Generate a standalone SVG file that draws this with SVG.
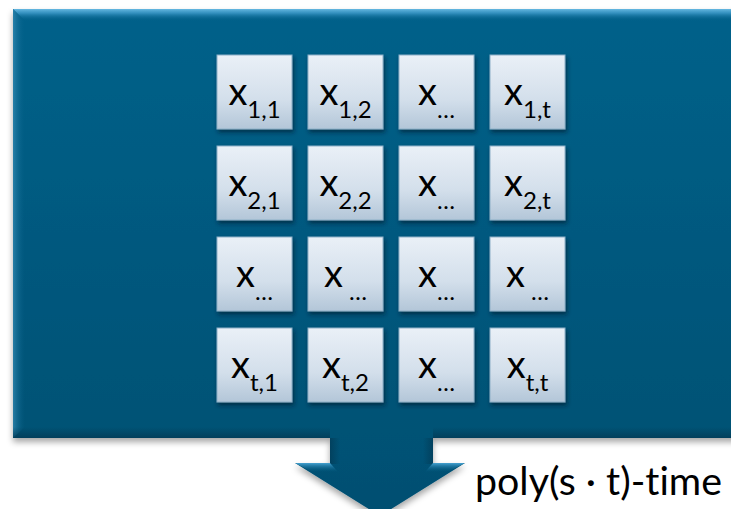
<svg xmlns="http://www.w3.org/2000/svg" width="731" height="509" viewBox="0 0 731 509">
  <style>
    .tile { fill: url(#tileFill); stroke: #8db0c8; stroke-width: 1; filter: url(#tileShadow); }
    .t { font-family: Lato, "Open Sans", "Liberation Sans", sans-serif; font-size: 38px; fill: #000; text-anchor: middle; font-variant-ligatures: none; }
    .s { font-size: 24px; }
    .label { font-family: Lato, "Open Sans", "Liberation Sans", sans-serif; font-size: 39px; fill: #000; font-variant-ligatures: none; }
  </style>
  <defs>
    <linearGradient id="bodyFill" x1="0" y1="0" x2="0" y2="1">
      <stop offset="0" stop-color="#06618a"/>
      <stop offset="1" stop-color="#054f71"/>
    </linearGradient>
    <linearGradient id="tileFill" x1="0" y1="0" x2="0" y2="1">
      <stop offset="0" stop-color="#eaf0f7"/>
      <stop offset="0.6" stop-color="#d3dfeb"/>
      <stop offset="1" stop-color="#b3c6d8"/>
    </linearGradient>
    <linearGradient id="topBevel" x1="0" y1="0" x2="0" y2="1">
      <stop offset="0" stop-color="#6cbde6" stop-opacity="0.95"/>
      <stop offset="0.35" stop-color="#3f9bcb" stop-opacity="0.8"/>
      <stop offset="1" stop-color="#06618a" stop-opacity="0"/>
    </linearGradient>
    <linearGradient id="leftBevel" x1="0" y1="0" x2="1" y2="0">
      <stop offset="0" stop-color="#3a8fb8" stop-opacity="0.7"/>
      <stop offset="1" stop-color="#06618a" stop-opacity="0"/>
    </linearGradient>
    <linearGradient id="bottomBevel" x1="0" y1="0" x2="0" y2="1">
      <stop offset="0" stop-color="#033a55" stop-opacity="0"/>
      <stop offset="1" stop-color="#033a55" stop-opacity="0.8"/>
    </linearGradient>
    <linearGradient id="stemLeft" x1="0" y1="0" x2="1" y2="0">
      <stop offset="0" stop-color="#033a55" stop-opacity="0.7"/>
      <stop offset="1" stop-color="#033a55" stop-opacity="0"/>
    </linearGradient>
    <linearGradient id="stemRight" x1="1" y1="0" x2="0" y2="0">
      <stop offset="0" stop-color="#033a55" stop-opacity="0.7"/>
      <stop offset="1" stop-color="#033a55" stop-opacity="0"/>
    </linearGradient>
    <linearGradient id="wingBevel" x1="0" y1="0" x2="0" y2="1">
      <stop offset="0" stop-color="#4aa6d6" stop-opacity="0.95"/>
      <stop offset="1" stop-color="#06618a" stop-opacity="0"/>
    </linearGradient>
    <filter id="bodyShadow" x="-5%" y="-5%" width="110%" height="115%">
      <feDropShadow dx="0" dy="4" stdDeviation="3" flood-color="#000" flood-opacity="0.35"/>
    </filter>
    <filter id="tileShadow" x="-20%" y="-20%" width="150%" height="150%">
      <feDropShadow dx="1.5" dy="3" stdDeviation="2.2" flood-color="#001e2e" flood-opacity="0.65"/>
    </filter>
    <clipPath id="bodyClip">
      <path d="M13,9 H745 V438 H433 V463 H465 L380,516 L295,463 H330 V438 H13 Z"/>
    </clipPath>
  </defs>

  <rect width="731" height="509" fill="#fff"/>

  <!-- down-arrow callout panel -->
  <g id="panel">
    <path d="M13,9 H745 V438 H433 V463 H465 L380,516 L295,463 H330 V438 H13 Z" fill="url(#bodyFill)" filter="url(#bodyShadow)"/>
    <g clip-path="url(#bodyClip)">
      <polygon points="13,9 745,9 745,21 25,21" fill="url(#topBevel)"/>
      <polygon points="13,9 25,21 25,427 13,438" fill="url(#leftBevel)"/>
      <rect x="13" y="427" width="317" height="11" fill="url(#bottomBevel)"/>
      <rect x="433" y="427" width="312" height="11" fill="url(#bottomBevel)"/>
      <rect x="330" y="438" width="10" height="26" fill="url(#stemLeft)"/>
      <rect x="423" y="438" width="10" height="26" fill="url(#stemRight)"/>
      <polygon points="295,463 330,463 338,472 312,472" fill="url(#wingBevel)"/>
      <polygon points="465,463 433,463 425,472 448,472" fill="url(#wingBevel)"/>
    </g>
  </g>

  <!-- matrix cells -->
  <g id="cell-1-1"><rect class="tile" x="217" y="55" width="75" height="74"/><text class="t" x="254.5" y="105">x<tspan class="s" dy="13">1,1</tspan></text></g>
  <g id="cell-1-2"><rect class="tile" x="308" y="55" width="75" height="74"/><text class="t" x="345.5" y="105">x<tspan class="s" dy="13">1,2</tspan></text></g>
  <g id="cell-1-3"><rect class="tile" x="399" y="55" width="75" height="74"/><text class="t" x="436.5" y="105">x<tspan class="s" dy="13">…</tspan></text></g>
  <g id="cell-1-4"><rect class="tile" x="490" y="55" width="75" height="74"/><text class="t" x="527.5" y="105">x<tspan class="s" dy="13">1,t</tspan></text></g>

  <g id="cell-2-1"><rect class="tile" x="217" y="146" width="75" height="74"/><text class="t" x="254.5" y="196">x<tspan class="s" dy="13">2,1</tspan></text></g>
  <g id="cell-2-2"><rect class="tile" x="308" y="146" width="75" height="74"/><text class="t" x="345.5" y="196">x<tspan class="s" dy="13">2,2</tspan></text></g>
  <g id="cell-2-3"><rect class="tile" x="399" y="146" width="75" height="74"/><text class="t" x="436.5" y="196">x<tspan class="s" dy="13">…</tspan></text></g>
  <g id="cell-2-4"><rect class="tile" x="490" y="146" width="75" height="74"/><text class="t" x="527.5" y="196">x<tspan class="s" dy="13">2,t</tspan></text></g>

  <g id="cell-3-1"><rect class="tile" x="217" y="237" width="75" height="74"/><text class="t" x="254.5" y="287">x<tspan class="s" dy="13">…</tspan></text></g>
  <g id="cell-3-2"><rect class="tile" x="308" y="237" width="75" height="74"/><text class="t" x="345.5" y="287" xml:space="preserve">x<tspan class="s" dy="13"> …</tspan></text></g>
  <g id="cell-3-3"><rect class="tile" x="399" y="237" width="75" height="74"/><text class="t" x="436.5" y="287">x<tspan class="s" dy="13">…</tspan></text></g>
  <g id="cell-3-4"><rect class="tile" x="490" y="237" width="75" height="74"/><text class="t" x="527.5" y="287" xml:space="preserve">x<tspan class="s" dy="13"> …</tspan></text></g>

  <g id="cell-4-1"><rect class="tile" x="217" y="328" width="75" height="74"/><text class="t" x="254.5" y="378">x<tspan class="s" dy="13">t,1</tspan></text></g>
  <g id="cell-4-2"><rect class="tile" x="308" y="328" width="75" height="74"/><text class="t" x="345.5" y="378">x<tspan class="s" dy="13">t,2</tspan></text></g>
  <g id="cell-4-3"><rect class="tile" x="399" y="328" width="75" height="74"/><text class="t" x="436.5" y="378">x<tspan class="s" dy="13">…</tspan></text></g>
  <g id="cell-4-4"><rect class="tile" x="490" y="328" width="75" height="74"/><text class="t" x="527.5" y="378">x<tspan class="s" dy="13">t,t</tspan></text></g>

  <g id="connectors"/>

  <text id="cost-label" class="label" x="475" y="495" textLength="247" lengthAdjust="spacingAndGlyphs">poly(s · t)-time</text>
</svg>
